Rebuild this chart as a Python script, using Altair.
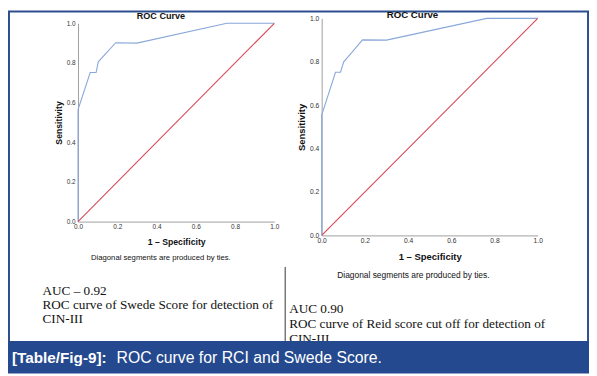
import altair as alt
import pandas as pd

# ---------------- data ----------------
left_fpr = [0.0, 0.0, 0.062, 0.092, 0.103, 0.192, 0.30, 0.758, 1.0]
left_tpr = [0.0, 0.565, 0.752, 0.752, 0.806, 0.902, 0.90, 1.0, 1.0]
right_fpr = [0.0, 0.0, 0.064, 0.087, 0.102, 0.14, 0.189, 0.30, 0.764, 1.0]
right_tpr = [0.0, 0.555, 0.752, 0.752, 0.80, 0.843, 0.901, 0.90, 1.0, 1.0]
diag_fpr = [0.0, 1.0]
diag_tpr = [0.0, 1.0]
tick_values = [0.0, 0.2, 0.4, 0.6, 0.8, 1.0]
series_names = ["ROC", "Reference"]

panel_title = "ROC Curve"
x_title = "1 – Specificity"
y_title = "Sensitivity"
footnote = "Diagonal segments are produced by ties."
left_lines = ["AUC – 0.92", "ROC curve of Swede Score for detection of", "CIN-III"]
right_lines = ["AUC 0.90", "ROC curve of Reid score cut off for detection of", "CIN-III"]
caption_bold = "[Table/Fig-9]:"
caption_rest = "ROC curve for RCI and Swede Score."

# ---------------- styling ----------------
W, H = 589, 368
BLUE = "#89a8da"
RED = "#d94858"
FRAME = "#2e4f8f"
BAR = "#24498f"
SANS = "Liberation Sans"
SERIF = "Liberation Serif"

one = pd.DataFrame({"k": [1]})


def text_mark(txt, x, y, size, font=SANS, weight="normal", align="left",
              baseline="alphabetic", color="#111111", angle=0):
    return alt.Chart(one).mark_text(
        text=txt, font=font, fontSize=size, fontWeight=weight, align=align,
        baseline=baseline, color=color, angle=angle
    ).encode(x=alt.value(x), y=alt.value(y))


def panel(fpr, tpr, x0, x1, y0, y1, lab, tit):
    rows = []
    for i, (f, t) in enumerate(zip(fpr, tpr)):
        rows.append({"fpr": f, "tpr": t, "series": series_names[0], "ord": i})
    for i, (f, t) in enumerate(zip(diag_fpr, diag_tpr)):
        rows.append({"fpr": f, "tpr": t, "series": series_names[1], "ord": i})
    df = pd.DataFrame(rows)
    common = dict(values=tick_values, format=".1f", ticks=False, grid=False,
                  domainColor="#a0a0a0", domainWidth=1,
                  labelFont=SANS, labelFontSize=lab, labelColor="#333333",
                  labelFlush=False, titleFont=SANS, titleFontSize=tit,
                  titleFontWeight="bold", titleColor="#111111")
    return alt.Chart(df).mark_line(strokeWidth=1.1).encode(
        x=alt.X("fpr:Q",
                scale=alt.Scale(domain=[0, 1], range=[x0, x1], nice=False, zero=False),
                axis=alt.Axis(orient="bottom", offset=y0 - H, labelPadding=2,
                              title=x_title, titlePadding=8, **common)),
        y=alt.Y("tpr:Q",
                scale=alt.Scale(domain=[0, 1], range=[y0, y1], nice=False, zero=False),
                axis=alt.Axis(orient="left", offset=-x0, labelPadding=3,
                              title=y_title, titlePadding=3, **common)),
        color=alt.Color("series:N",
                        scale=alt.Scale(domain=series_names, range=[BLUE, RED]),
                        legend=None),
        order="ord:Q",
    )


left_panel = panel(left_fpr, left_tpr, 71, 270, 214, 13, 6.5, 8.8)
right_panel = panel(right_fpr, right_tpr, 318, 537, 228, 8, 6.8, 9.6)

layers = []
# frame
layers.append(alt.Chart(one).mark_rect(fill=None, stroke=FRAME, strokeWidth=2).encode(
    x=alt.value(1), x2=alt.value(588), y=alt.value(1), y2=alt.value(340)))
# divider
layers.append(alt.Chart(one).mark_rule(color="#333333", strokeWidth=1).encode(
    x=alt.value(281), y=alt.value(260), y2=alt.value(335)))
# panel titles and footnotes
layers.append(text_mark(panel_title, 155, 6, 9.2, weight="bold", align="center", baseline="middle"))
layers.append(text_mark(panel_title, 410, 4.5, 9.8, weight="bold", align="center", baseline="middle"))
layers.append(text_mark(footnote, 155, 251, 7.8, align="center", baseline="middle"))
layers.append(text_mark(footnote, 411, 268, 8.5, align="center", baseline="middle"))
# description text blocks
for i, line in enumerate(left_lines):
    layers.append(text_mark(line, 35, 288 + 14.5 * i, 13.4, font=SERIF))
for i, line in enumerate(right_lines):
    layers.append(text_mark(line, 285, 307 + 15 * i, 13.4, font=SERIF))
# caption bar
layers.append(alt.Chart(one).mark_rect(fill=BAR).encode(
    x=alt.value(0), x2=alt.value(W), y=alt.value(335), y2=alt.value(H)))
layers.append(text_mark(caption_bold, 4, 357, 15.5, weight="bold", color="white"))
layers.append(text_mark(caption_rest, 110, 357, 16, color="white"))

chart = alt.layer(left_panel, right_panel, *layers).resolve_scale(
    x="independent", y="independent"
).properties(
    width=W, height=H, padding=0, autosize=alt.AutoSizeParams(type="none"),
    background="white"
).configure_view(stroke=None)

chart.save("out.html", embed_options={"renderer": "svg", "actions": False})
